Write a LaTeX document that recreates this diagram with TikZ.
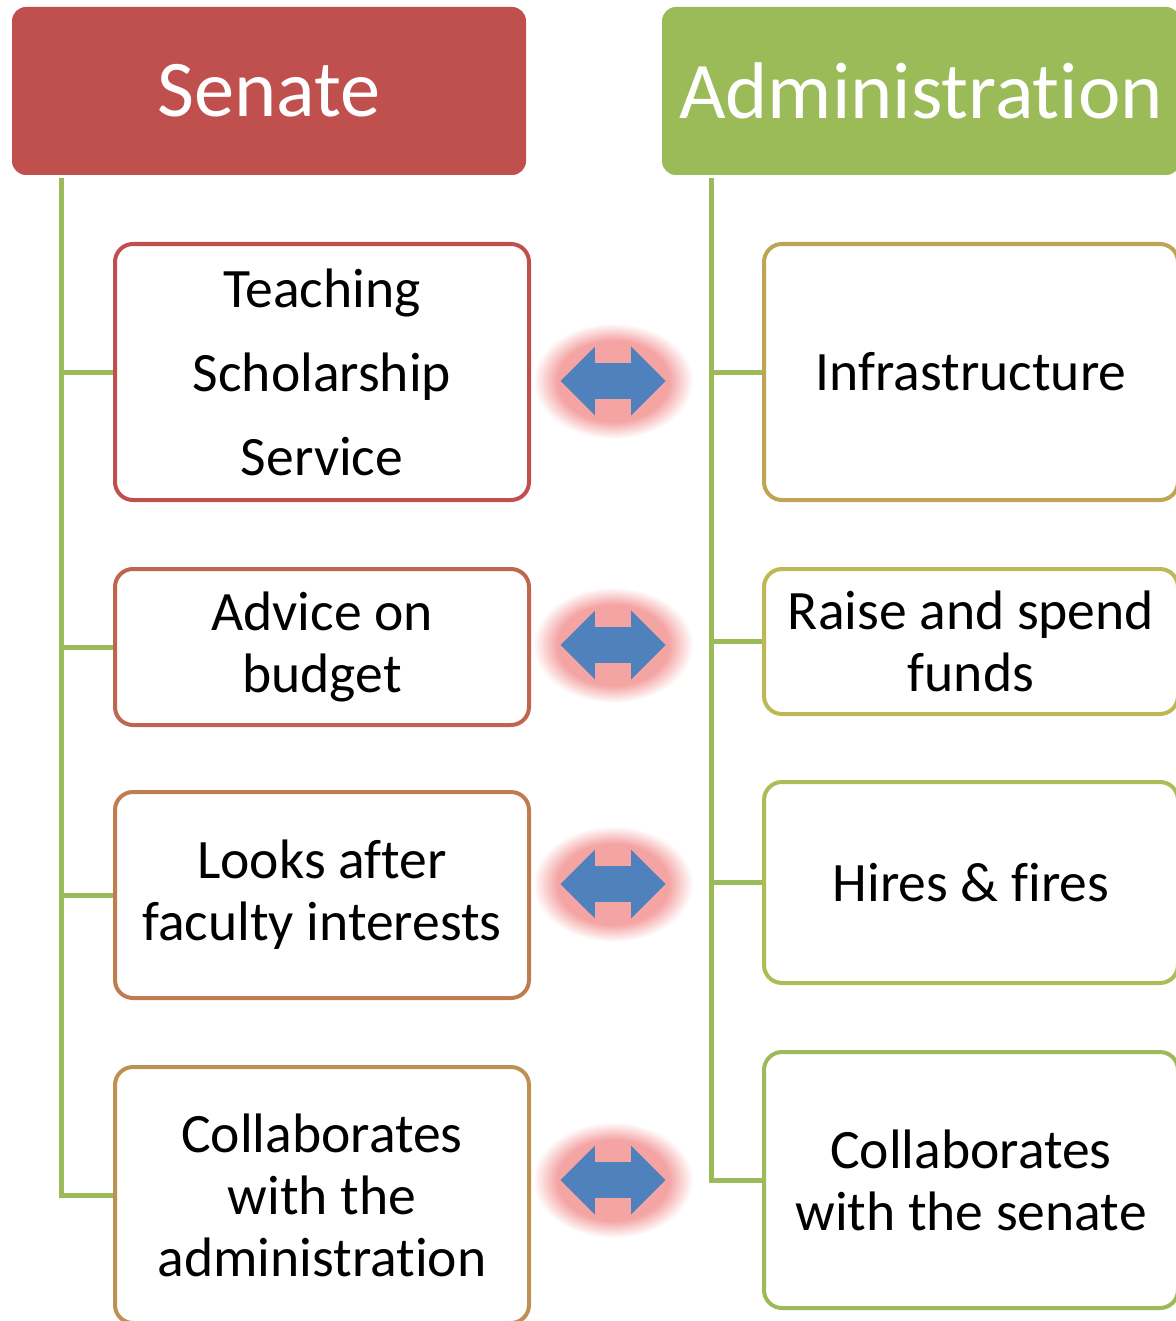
\documentclass[tikz,border=0pt]{standalone}
\usepackage{fontspec}
\setmainfont[Ligatures=NoCommon]{Carlito}
\usetikzlibrary{shapes.arrows}

\definecolor{senred}{RGB}{192,80,77}
\definecolor{admgreen}{RGB}{155,187,89}
\definecolor{arrowblue}{RGB}{79,129,189}
\definecolor{glowpink}{RGB}{245,164,164}
% border colours, red to green
\definecolor{bordA}{RGB}{192,80,77}
\definecolor{bordB}{RGB}{191,102,79}
\definecolor{bordC}{RGB}{191,124,80}
\definecolor{bordD}{RGB}{190,145,82}
\definecolor{bordE}{RGB}{189,165,84}
\definecolor{bordF}{RGB}{189,184,86}
\definecolor{bordG}{RGB}{174,188,87}
\definecolor{bordH}{RGB}{155,187,89}

\pgfdeclareradialshading{glowshade}{\pgfpoint{0bp}{0bp}}{color(0bp)=(glowpink); color(17.5bp)=(glowpink); color(25bp)=(white); color(50bp)=(white)}

\tikzset{
  head/.style={rectangle, rounded corners=7pt, minimum height=84pt, inner sep=0pt,
    text=white, font=\fontsize{40.2}{47}\selectfont},
  item/.style={rectangle, rounded corners=9pt, draw=#1, line width=2pt, fill=white,
    minimum width=207pt, align=center, inner sep=0pt, font=\fontsize{27.8}{31}\selectfont},
  spine/.style={admgreen, line width=2.5pt},
  link/.style={double arrow, fill=arrowblue, minimum height=52.5pt, inner xsep=0pt,
    inner ysep=8.75pt, double arrow head extend=8.25pt},
}

\begin{document}
\begin{tikzpicture}[x=0.5pt,y=-0.5pt]
\useasboundingbox (0,0) rectangle (1175,1321);

% headers
\node[head, fill=senred, minimum width=257pt] (senate) at (269,91) {Senate};
\node[head, fill=admgreen, minimum width=259pt] (admin) at (921,91) {Administration};

% senate side
\node[item=bordA, minimum height=128pt, font=\fontsize{27.8}{42}\selectfont] (l1) at (322,372) {Teaching\\Scholarship\\Service};
\node[item=bordB, minimum height=78pt] (l2) at (322,647) {Advice on\\budget};
\node[item=bordC, minimum height=103pt] (l3) at (322,895) {Looks after\\faculty interests};
\node[item=bordD, minimum height=128pt] (l4) at (322,1195) {Collaborates\\with the\\administration};

% administration side
\node[item=bordE, minimum height=128pt] (r1) at (971,372) {Infrastructure};
\node[item=bordF, minimum height=72.5pt] (r2) at (971,641.5) {Raise and spend\\funds};
\node[item=bordG, minimum height=100.5pt] (r3) at (971,882.5) {Hires \& fires};
\node[item=bordH, minimum height=128pt] (r4) at (971,1180) {Collaborates\\with the senate};

% tree lines
\coordinate (ls) at ([xshift=25pt,yshift=-1.5pt]senate.south west);
\coordinate (rs) at ([xshift=25pt,yshift=-1.5pt]admin.south west);
\draw[spine] (ls) |- (l4.west);
\draw[spine] (rs) |- (r4.west);
\foreach \b in {l1,l2,l3}
  \draw[spine] (ls |- \b.west) -- (\b.west);
\foreach \b in {r1,r2,r3}
  \draw[spine] (rs |- \b.west) -- (\b.west);

% two-way arrows with glow
\foreach \n/\y in {a1/381,a2/645,a3/884,a4/1180} {
  \shade[shading=glowshade] (613,\y) ellipse [x radius=40pt, y radius=29pt];
  \node[link] (\n) at (613,\y) {};
}
\end{tikzpicture}
\end{document}
